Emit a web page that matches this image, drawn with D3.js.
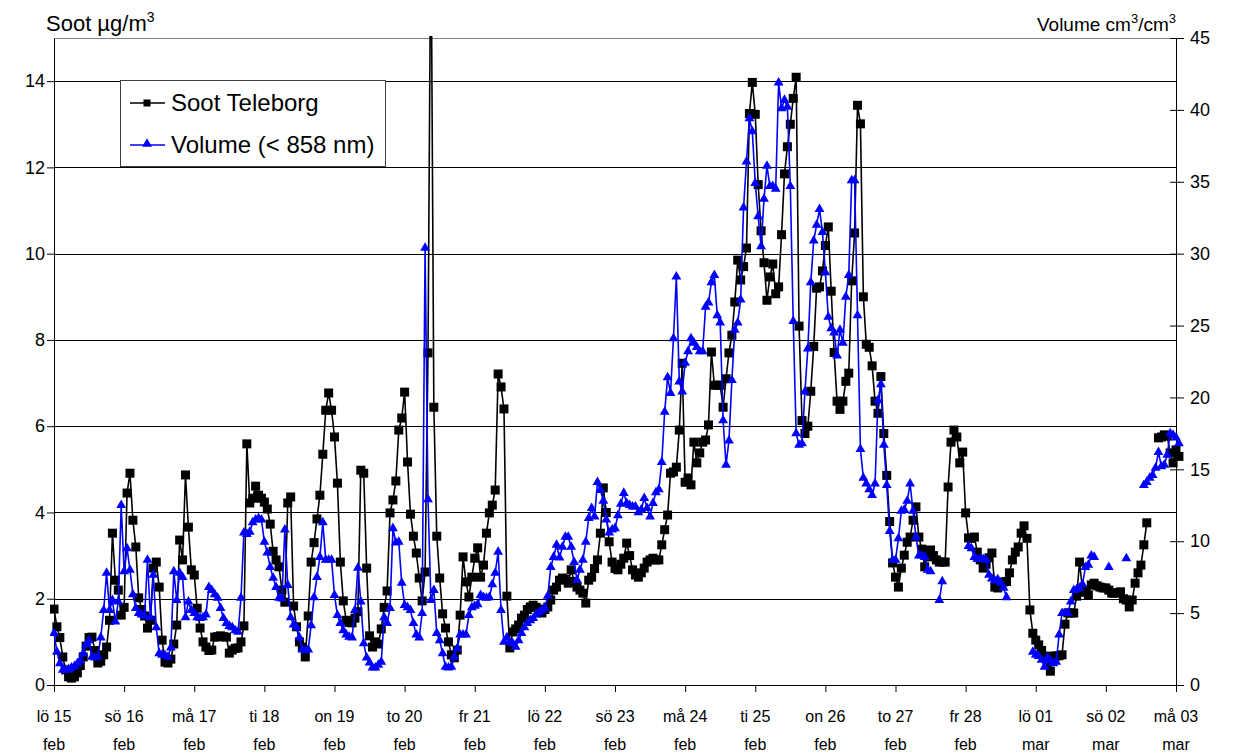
<!DOCTYPE html>
<html>
<head>
<meta charset="utf-8">
<script src="https://cdnjs.cloudflare.com/ajax/libs/d3/7.8.5/d3.min.js"></script>
<style>
  body { margin: 0; background: #fff; }
  text { font-family: "Liberation Sans", Arial, sans-serif; fill: #000; }
</style>
</head>
<body>
<div id="chart"></div>
<script>
// hourly readings, lö 15 feb 00:00 -> må 03 mar 01:00 (one row per day, 24 values)
var sootTeleborg = [
  1.76,1.35,1.1,0.65,0.35,0.19,0.16,0.19,0.28,0.45,0.65,0.9,1.1,1.11,0.8,0.51,0.55,0.7,0.88,1.5,3.52,2.43,2.2,1.62,
  1.8,4.45,4.91,3.82,3.2,2.02,1.75,1.6,1.32,1.5,2.71,2.85,2.27,1.04,0.53,0.51,0.6,0.95,1.39,3.36,2.9,4.87,3.66,2.67,
  2.55,1.78,1.32,1.0,0.88,0.8,0.81,1.11,1.12,1.14,1.12,1.11,0.74,0.81,0.85,0.86,1.0,1.37,5.59,4.22,4.33,4.61,4.4,4.33,
  4.24,4.08,3.73,3.1,2.9,2.74,2.2,1.92,4.22,4.36,1.83,1.35,1.0,0.88,0.65,1.6,2.85,3.3,3.85,4.4,5.35,6.37,6.77,6.37,
  5.75,4.68,2.85,1.95,1.5,1.45,1.44,1.55,1.7,4.98,4.91,2.71,1.14,0.88,1.0,0.95,1.3,1.8,2.18,3.99,4.29,4.73,5.91,6.19,
  6.79,5.17,3.96,3.45,3.06,2.48,1.95,2.62,7.7,18,6.44,3.45,2.48,1.65,1.32,1.0,0.7,0.63,0.81,1.62,2.97,2.39,2.04,2.5,
  2.94,3.18,2.5,2.78,3.52,3.99,4.17,4.52,7.21,6.91,6.4,2.06,0.86,1.23,1.3,1.39,1.55,1.62,1.75,1.81,1.85,1.8,1.76,1.67,
  1.75,1.81,1.97,2.2,2.27,2.43,2.48,2.45,2.36,2.67,2.4,2.27,2.2,2.13,1.9,2.43,2.5,2.7,2.9,3.52,4.57,4.0,3.32,2.85,
  2.7,2.67,2.8,2.94,3.29,3.0,2.67,2.55,2.5,2.6,2.71,2.85,2.9,2.94,2.9,2.9,3.25,3.6,3.94,4.91,4.94,5.05,5.91,7.46,
  4.7,4.8,4.64,5.63,5.15,5.38,5.63,5.68,6.03,7.72,6.95,6.95,6.95,6.44,7.1,7.7,8.11,8.88,9.85,9.39,9.7,10.13,13.25,13.97,
  13.23,11.6,10.53,9.79,8.92,9.46,9.76,9.07,9.23,10.44,11.85,12.48,13.0,13.6,14.09,8.32,6.13,5.83,6.0,6.81,7.85,9.2,9.23,9.6,
  10.19,10.62,9.13,7.71,6.58,6.39,6.58,7.04,7.23,9.37,10.48,13.44,13.01,9.0,7.9,7.83,7.4,6.58,6.3,7.15,5.83,4.86,3.79,2.83,
  2.5,2.27,2.71,3.01,3.31,3.43,3.82,4.13,3.43,3.15,2.74,2.97,3.13,3.0,2.9,2.85,2.85,2.85,4.59,5.63,5.91,5.75,5.15,5.4,
  3.99,3.41,3.4,3.43,3.08,2.9,2.71,2.8,2.95,3.06,2.27,2.25,2.3,2.39,2.4,2.6,2.9,3.08,3.2,3.52,3.69,3.4,1.74,1.2,
  1.04,0.93,0.8,0.67,0.5,0.32,0.67,0.67,0.68,0.7,1.41,1.67,1.67,1.67,2.06,2.85,2.2,2.15,2.09,2.32,2.36,2.3,2.27,2.25,
  2.25,2.2,2.13,2.13,2.14,2.16,2.0,1.97,1.81,1.97,2.36,2.6,2.78,3.25,3.76,null,null,null,5.73,5.75,5.8,5.77,5.38,5.15,
  5.45,5.3
];
var volume858 = [
  3.6,2.3,1.5,1.05,1.05,1.1,1.2,1.3,1.5,1.7,2.2,2.8,3.1,1.95,1.9,1.95,3.3,5.2,7.8,5.2,5.9,4.4,5.8,12.5,
  7.9,9.5,8.0,6.3,5.35,5.0,4.9,4.8,8.7,4.7,7.65,4.0,2.2,2.1,2.05,1.95,2.6,7.9,5.9,7.8,7.5,4.7,5.8,5.2,
  5.0,4.7,4.65,4.7,4.9,6.8,6.6,6.3,6.05,5.35,4.65,4.3,4.1,4.0,3.8,3.7,6.05,10.6,10.5,10.65,11.3,11.5,11.6,11.5,
  9.95,9.2,8.2,7.45,6.8,6.05,6.0,10.8,6.95,4.7,4.2,4.0,3.3,2.45,2.4,2.45,4.15,6.1,7.5,8.9,11.3,8.7,8.7,8.7,
  6.25,4.85,4.3,3.8,3.5,3.35,3.3,5.2,8.15,5.8,2.9,1.9,1.55,1.2,1.2,1.4,1.6,4.7,4.3,5.35,10.9,9.9,9.95,7.1,
  5.55,5.4,5.2,4.3,3.5,3.3,5.0,30.4,12.9,5.9,6.6,3.6,3.1,2.2,1.25,1.2,1.25,1.95,2.55,3.5,3.5,3.5,4.85,5.4,
  5.5,5.6,6.25,6.1,6.05,6.1,7.0,7.8,9.25,5.2,3.0,3.3,3.0,2.9,2.65,3.1,3.6,4.0,4.3,4.5,4.65,4.9,5.05,5.2,
  5.35,6.2,8.2,8.9,9.75,8.85,9.6,10.3,10.3,9.6,8.55,7.3,8.0,8.7,9.95,11.6,12.3,11.7,14.1,13.55,12.8,11.5,10.6,10.8,
  10.9,11.8,12.6,13.35,12.65,12.5,12.4,12.4,12.0,12.2,13.0,12.3,11.7,12.65,13.4,13.6,15.5,19.0,21.4,20.3,24.1,28.4,21.1,20.4,
  22.4,23.2,24.1,23.8,23.5,23.2,23.2,26.3,26.6,28.0,28.5,25.7,25.2,18.4,15.3,17.0,21.2,24.7,25.2,26.8,33.2,36.4,39.4,38.5,
  34.9,32.6,30.5,33.8,36.1,34.7,34.7,34.5,41.9,40.1,40.7,40.2,34.7,25.3,17.5,16.7,16.8,20.4,23.4,28.0,30.9,32.0,33.1,31.5,
  28.7,25.6,24.8,24.5,22.9,24.7,23.8,27.0,28.5,35.1,35.1,25.7,16.4,14.4,14.0,13.6,13.2,14.0,19.8,20.9,16.7,13.9,10.7,8.7,
  8.7,10.2,12.1,12.2,12.8,14.0,12.1,10.3,9.0,9.0,8.9,8.0,7.9,null,null,5.9,7.2,null,null,null,null,null,null,null,
  null,9.65,9.5,8.9,8.75,8.75,8.75,8.7,7.65,7.4,7.25,7.35,7.1,6.75,6.1,null,null,null,null,null,null,null,null,2.3,
  2.1,2.0,1.75,1.25,1.9,1.7,1.5,1.6,3.5,5.0,5.0,5.0,5.8,6.6,6.65,6.75,7.0,8.2,8.35,9.0,8.9,null,null,null,
  null,8.2,null,null,null,null,null,8.8,null,null,null,null,null,13.9,14.1,14.4,14.6,15.1,16.2,15.2,15.3,16.0,17.5,17.4,
  17.2,16.8
];
var dayLabels = ["lö 15","sö 16","må 17","ti 18","on 19","to 20","fr 21","lö 22","sö 23",
                 "må 24","ti 25","on 26","to 27","fr 28","lö 01","sö 02","må 03"];
var monthLabels = ["feb","feb","feb","feb","feb","feb","feb","feb","feb",
                   "feb","feb","feb","feb","feb","mar","mar","mar"];
var sootTicks = [0,2,4,6,8,10,12,14];
var volumeTicks = [0,5,10,15,20,25,30,35,40,45];

function drawChart() {
  var w = 1237, h = 755;
  var pLeft = 54, pRight = 1176, pTop = 38, pBottom = 685;
  var start = new Date(2003, 1, 15, 0);
  var end = new Date(2003, 2, 3, 0);

  function hourDate(i) { return new Date(start.getTime() + i * 3600000); }

  var x = d3.scaleTime().domain([start, end]).range([pLeft, pRight]);
  var ySoot = d3.scaleLinear().domain([0, 15]).range([pBottom, pTop]);
  var yVol = d3.scaleLinear().domain([0, 45]).range([pBottom, pTop]);

  var svg = d3.select("#chart").append("svg")
    .attr("width", w).attr("height", h);

  svg.append("defs").append("clipPath").attr("id", "plotclip")
    .append("rect").attr("x", pLeft - 4).attr("y", pTop - 2)
    .attr("width", pRight - pLeft + 12).attr("height", pBottom - pTop + 10);

  //gridlines
  svg.append("g").selectAll("line")
    .data(sootTicks.filter(function(d) { return d > 0; }))
    .enter().append("line")
    .attr("x1", pLeft).attr("x2", pRight)
    .attr("y1", function(d) { return Math.round(ySoot(d)) + 0.5; })
    .attr("y2", function(d) { return Math.round(ySoot(d)) + 0.5; })
    .attr("stroke", "#000").attr("stroke-width", 1);

  //plot border
  svg.append("rect")
    .attr("x", pLeft + 0.5).attr("y", pTop + 0.5)
    .attr("width", pRight - pLeft).attr("height", pBottom - pTop)
    .attr("fill", "none").attr("stroke", "#808080");

  //axes
  var xAxis = d3.axisBottom(x)
    .tickValues(dayLabels.map(function(d, i) { return d3.timeDay.offset(start, i); }))
    .tickSize(7).tickSizeOuter(0).tickFormat("");
  svg.append("g").attr("transform", "translate(0," + pBottom + ")").call(xAxis);

  var leftAxis = d3.axisLeft(ySoot).tickValues(sootTicks).tickSize(7).tickSizeOuter(0)
    .tickPadding(2).tickFormat(d3.format("d"));
  svg.append("g").attr("transform", "translate(" + pLeft + ",0)").call(leftAxis);

  var rightAxis = d3.axisRight(yVol).tickValues(volumeTicks).tickSize(8).tickSizeOuter(0)
    .tickPadding(6).tickFormat(d3.format("d"));
  var ra = svg.append("g").attr("transform", "translate(" + pRight + ",0)").call(rightAxis);
  //right ticks cross the axis line
  ra.selectAll(".tick line").attr("x1", -6);

  svg.selectAll(".domain").attr("stroke", "#000");
  svg.selectAll(".tick line").attr("stroke", "#000");
  svg.selectAll(".tick text").style("font-size", "18px")
    .style("font-family", "'Liberation Sans', Arial, sans-serif");

  //two-line day labels
  var xl = svg.append("g");
  dayLabels.forEach(function(d, i) {
    var px = x(d3.timeDay.offset(start, i));
    var t = xl.append("text")
      .attr("x", px).attr("y", 722)
      .attr("text-anchor", "middle")
      .style("font-size", "16px");
    t.append("tspan").text(d);
    t.append("tspan").attr("x", px).attr("dy", 28).text(monthLabels[i]);
  });

  //axis titles
  var lt = svg.append("text").attr("x", 46).attr("y", 31).style("font-size", "22px");
  lt.append("tspan").text("Soot µg/m");
  lt.append("tspan").attr("dy", -9).style("font-size", "14px").text("3");

  var rt = svg.append("text").attr("x", 1176).attr("y", 31)
    .attr("text-anchor", "end").style("font-size", "19px");
  rt.append("tspan").text("Volume cm");
  rt.append("tspan").attr("dy", -8).style("font-size", "13px").text("3");
  rt.append("tspan").attr("dy", 8).text("/cm");
  rt.append("tspan").attr("dy", -8).style("font-size", "13px").text("3");

  //series
  var sootPts = sootTeleborg.map(function(v, i) { return { t: hourDate(i), v: v }; });
  var volPts = volume858.map(function(v, i) { return { t: hourDate(i), v: v }; });

  var plot = svg.append("g").attr("clip-path", "url(#plotclip)");

  var sootLine = d3.line()
    .defined(function(d) { return d.v != null; })
    .x(function(d) { return x(d.t); })
    .y(function(d) { return ySoot(d.v); });
  var volLine = d3.line()
    .defined(function(d) { return d.v != null; })
    .x(function(d) { return x(d.t); })
    .y(function(d) { return yVol(d.v); });

  plot.append("path").datum(sootPts)
    .attr("d", sootLine).attr("fill", "none")
    .attr("stroke", "#000").attr("stroke-width", 1.6);

  plot.selectAll(".sq")
    .data(sootPts.filter(function(d) { return d.v != null; }))
    .enter().append("rect")
    .attr("class", "sq")
    .attr("x", function(d) { return x(d.t) - 4.5; })
    .attr("y", function(d) { return ySoot(d.v) - 4.5; })
    .attr("width", 9).attr("height", 9)
    .attr("fill", "#000");

  plot.append("path").datum(volPts)
    .attr("d", volLine).attr("fill", "none")
    .attr("stroke", "#0000ff").attr("stroke-width", 1.6);

  var tri = d3.symbol().type(d3.symbolTriangle).size(42);
  plot.selectAll(".tri")
    .data(volPts.filter(function(d) { return d.v != null; }))
    .enter().append("path")
    .attr("class", "tri")
    .attr("d", tri)
    .attr("transform", function(d) { return "translate(" + x(d.t) + "," + yVol(d.v) + ")"; })
    .attr("fill", "#0000ff");

  //legend
  var lg = svg.append("g");
  lg.append("rect").attr("x", 120.5).attr("y", 80.5).attr("width", 265).attr("height", 86)
    .attr("fill", "#fff").attr("stroke", "#404040");
  lg.append("line").attr("x1", 130).attr("x2", 165).attr("y1", 103).attr("y2", 103)
    .attr("stroke", "#000").attr("stroke-width", 1.6);
  lg.append("rect").attr("x", 143.5).attr("y", 99.5).attr("width", 7).attr("height", 7).attr("fill", "#000");
  lg.append("text").attr("x", 171).attr("y", 111).style("font-size", "24px").text("Soot Teleborg");
  lg.append("line").attr("x1", 130).attr("x2", 165).attr("y1", 145).attr("y2", 145)
    .attr("stroke", "#0000ff").attr("stroke-width", 1.6);
  lg.append("path").attr("d", tri).attr("transform", "translate(147,144)").attr("fill", "#0000ff");
  lg.append("text").attr("x", 171).attr("y", 153).style("font-size", "24px").text("Volume (< 858 nm)");
}

drawChart();
</script>
</body>
</html>
